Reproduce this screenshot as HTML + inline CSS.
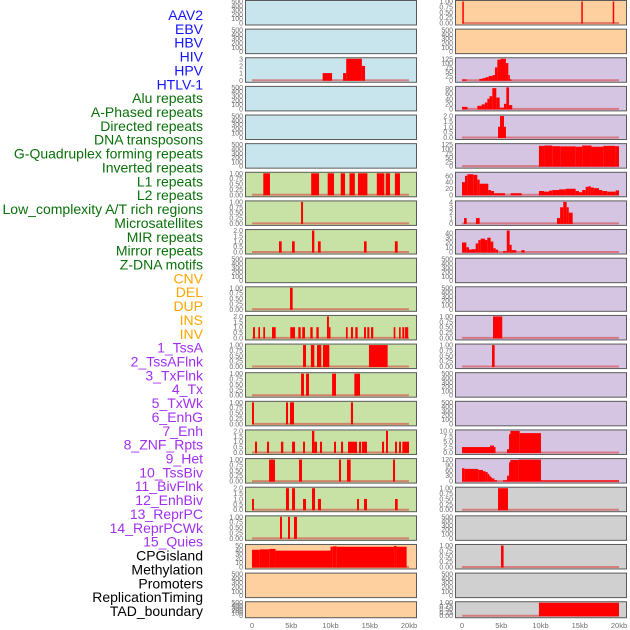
<!DOCTYPE html>
<html><head><meta charset="utf-8"><style>
body{margin:0;background:#fff;width:630px;height:630px;overflow:hidden}
svg{display:block;font-family:"Liberation Sans",sans-serif}
</style></head><body>
<svg id="chart" width="630" height="630" viewBox="0 0 630 630"></svg>
<script>
const labels=["AAV2","EBV","HBV","HIV","HPV","HTLV-1","Alu repeats","A-Phased repeats","Directed repeats","DNA transposons","G-Quadruplex forming repeats","Inverted repeats","L1 repeats","L2 repeats","Low_complexity A/T rich regions","Microsatellites","MIR repeats","Mirror repeats","Z-DNA motifs","CNV","DEL","DUP","INS","INV","1_TssA","2_TssAFlnk","3_TxFlnk","4_Tx","5_TxWk","6_EnhG","7_Enh","8_ZNF_Rpts","9_Het","10_TssBiv","11_BivFlnk","12_EnhBiv","13_ReprPC","14_ReprPCWk","15_Quies","CPGisland","Methylation","Promoters","ReplicationTiming","TAD_boundary"];
const groups=["virus","virus","virus","virus","virus","virus","repeat","repeat","repeat","repeat","repeat","repeat","repeat","repeat","repeat","repeat","repeat","repeat","repeat","sv","sv","sv","sv","sv","state","state","state","state","state","state","state","state","state","state","state","state","state","state","state","other","other","other","other","other"];
const xTicks=[0,5,10,15,20];
const xTickLabels=["0","5kb","10kb","15kb","20kb"];
const ticksEmpty=["0","100","200","300","400","500"];
const ticksBin=["0.00","0.25","0.50","0.75","1.00"];
const ticks2=["0.0","0.5","1.0","1.5","2.0"];
const ticks3=["0","1","2","3"];
const ticks4=["0","1","2","3","4"];
const ticks125=["0","25","50","75","100","125"];
const ticks80=["0","20","40","60","80"];
const ticks60=["0","20","40","60"];
const ticks40=["0","10","20","30","40"];
const ticks10=["0.0","2.5","5.0","7.5","10.0"];
const ticks120=["0","30","60","90","120"];
const ticks50=["0","10","20","30","40","50"];
// segments: [startKb, endKb, value]
const segL2=[[9.0,10.2,1],[11.6,12.0,1],[12.0,14.0,3],[14.0,14.4,2]];
const segL6=[[1.44,2.29,1],[7.54,8.54,1],[9.64,10.45,1],[11.3,11.85,1],[12.42,13.1,1],[13.5,14.7,1],[15.9,16.86,1],[17.03,17.58,1],[18.2,18.85,1]];
const segL7=[[6.25,6.5,1]];
const segL8=[[3.44,3.78,1],[5.1,5.44,1],[7.64,7.94,2],[8.4,8.75,1],[14.27,14.6,1],[18.2,18.56,1]];
const segL10=[[4.84,5.18,1]];
const segL11=[[0.13,0.38,1],[0.81,1.02,1],[1.44,1.66,1],[2.55,3.02,1],[4.88,5.48,1],[5.9,6.2,1],[6.4,6.75,1],[7.43,7.73,1],[8.2,8.5,1],[9.55,9.8,2],[9.8,10.0,1],[11.97,12.19,1],[12.6,12.87,1],[13.16,13.46,1],[14.27,14.52,1],[14.69,14.95,1],[15.16,15.45,1],[18.05,18.26,1],[18.73,18.94,1],[19.15,19.4,1],[19.5,19.9,1]];
const segL12=[[6.5,6.88,1],[7.5,7.94,1],[8.28,8.83,1],[9.04,9.85,1],[14.9,17.28,1]];
const segL13=[[6.25,6.62,1],[6.88,7.26,1],[10.2,10.7,1],[13.04,13.76,1]];
const segL14=[[0,0.25,1],[4.33,4.59,1],[4.84,5.35,1],[12.6,12.87,1]];
const segL15=[[0.38,0.64,1],[1.91,2.17,1],[3.69,3.99,1],[5.1,5.48,1],[6.5,6.75,1],[7.64,7.94,2],[7.94,8.28,1],[8.66,8.92,1],[10.45,10.7,1],[11.34,11.6,1],[12.23,13.38,1],[13.63,13.89,1],[14.0,14.65,1],[16.56,16.82,1],[17.07,17.32,2],[18.22,18.47,1],[18.73,18.98,1],[19.15,20,1]];
const segL16=[[2.17,2.93,1],[5.99,6.37,1],[11.08,11.34,1],[12.1,12.57,1],[17.96,18.22,1]];
const segL17=[[0,0.25,1],[4.33,4.71,2],[5.1,5.48,2],[6.5,6.88,1],[7.64,8.03,2],[8.4,8.79,1],[13.38,13.63,1],[14.27,14.65,1],[18.22,18.56,1]];
const segL18=[[3.57,3.82,1],[4.59,4.84,1],[5.35,5.73,1]];
const segL19=[[0,1,40],[1,2.2,41],[2.2,3,42],[3,10,38],[10,10.3,47],[10.3,10.8,48],[10.8,18.1,47],[18.1,18.4,49],[18.4,19.7,47]];
const segR0=[[0.04,0.2,1],[15.2,15.35,1],[19.2,19.35,1]];
const segR2=[[0,0.6,5],[2.2,2.6,8],[2.6,3.0,12],[3.0,3.4,18],[3.4,3.9,25],[3.9,4.2,30],[4.2,4.5,75],[4.5,4.9,120],[4.9,5.6,127],[5.6,5.9,100],[5.9,6.1,30],[6.1,6.3,5]];
const segR3=[[0,0.7,8],[1.95,2.5,12],[2.5,2.9,18],[2.9,3.23,25],[3.23,3.5,40],[3.5,3.86,50],[3.86,4.37,82],[4.37,4.8,45],[4.8,5.35,5],[5.35,5.65,20],[5.65,5.99,85],[5.99,6.4,15]];
const segR4=[[4.59,4.84,1],[4.84,5.35,2],[5.35,5.6,1]];
const segR5=[[9.8,10.5,118],[10.5,11.5,120],[11.5,12.5,116],[12.5,14.5,115],[14.5,15.3,113],[15.3,16.5,120],[16.5,18,113],[18,19.5,118],[19.5,20,116]];
const segR6=[[0,0.38,40],[0.38,0.68,60],[0.68,1.44,65],[1.44,1.95,63],[1.95,2.25,48],[2.25,3.35,35],[3.35,3.69,15],[3.69,4.08,12],[4.08,5.48,5],[6.2,7.6,5],[9.8,10.45,12],[10.45,11.08,10],[11.08,11.5,13],[11.5,12.36,15],[12.36,13.2,17],[13.2,14.48,19],[14.48,14.9,12],[14.9,15.3,8],[15.3,15.75,15],[15.75,16.1,25],[16.1,16.39,27],[16.39,16.8,23],[16.8,17.45,21],[17.45,17.87,15],[17.87,18.5,12],[18.5,19.58,10],[19.58,20,14]];
const segR7=[[0.26,0.6,1],[1.78,2.25,1],[12.1,12.5,1],[12.5,12.9,3],[12.9,13.33,4],[13.33,13.6,3],[13.6,14.1,2]];
const segR8=[[0,0.55,20],[0.55,0.9,10],[0.9,1.2,5],[1.2,1.74,6],[1.74,2.08,18],[2.08,2.38,25],[2.38,2.93,28],[2.93,3.22,25],[3.22,3.65,30],[3.65,3.99,22],[3.99,4.29,8],[4.29,4.6,5],[5.22,5.7,2],[5.7,6.07,45],[6.07,6.33,15],[6.33,6.92,4],[7.56,7.98,4]];
const segR11=[[3.95,5.13,1]];
const segR12=[[3.82,4.16,1]];
const segR15=[[0,3.57,2.5],[3.57,4.08,3.2],[4.08,4.2,2.5],[5.73,5.99,1.5],[5.99,6.16,8.5],[6.16,7.35,10],[7.35,10.06,9]];
const segR16=[[0,0.3,72],[0.3,2.08,68],[2.08,2.68,62],[2.68,3.01,55],[3.01,3.27,50],[3.27,3.45,40],[3.45,3.6,30],[3.6,3.8,22],[3.8,4.12,15],[4.12,4.46,5],[5.22,5.73,5],[5.73,5.99,30],[5.99,6.16,105],[6.16,7.18,118],[7.18,10.06,120],[10.06,20,4]];
const segR17=[[4.59,5.86,1]];
const segR19=[[4.97,5.3,1]];
const segR21=[[9.8,20,1]];

const bgColors={virus:"#c8e4ec",repeat:"#c8e1a4",sv:"#fed09f",state:"#d5c5e2",other:"#d0d0d0"};
const labelColors={virus:"#1414ff",repeat:"#0a700a",sv:"#ffa500",state:"#a030f0",other:"#000000"};
const panelDefs=[
[ticksEmpty,500,null],[ticksEmpty,500,null],[ticks3,3,segL2],[ticksEmpty,500,null],[ticksEmpty,500,null],[ticksEmpty,500,null],
[ticksBin,1,segL6],[ticksBin,1,segL7],[ticks2,2,segL8],[ticksEmpty,500,null],[ticksBin,1,segL10],[ticks2,2,segL11],[ticksBin,1,segL12],[ticksBin,1,segL13],[ticksBin,1,segL14],[ticks2,2,segL15],[ticksBin,1,segL16],[ticks2,2,segL17],[ticksBin,1,segL18],
[ticks50,50,segL19],[ticksEmpty,500,null],[ticksEmpty,500,null],
[ticksBin,1,segR0],[ticksEmpty,500,null],
[ticks125,125,segR2],[ticks80,85,segR3],[ticks2,2,segR4],[ticks125,125,segR5],[ticks60,68,segR6],[ticks4,4,segR7],[ticks40,45,segR8],[ticksEmpty,500,null],[ticksEmpty,500,null],[ticksBin,1,segR11],[ticksBin,1,segR12],[ticksEmpty,500,null],[ticksEmpty,500,null],[ticks10,10,segR15],[ticks120,120,segR16],
[ticksBin,1,segR17],[ticksEmpty,500,null],[ticksBin,1,segR19],[ticksEmpty,500,null],[ticksBin,1,segR21]
];
const NS="http://www.w3.org/2000/svg";
const svg=document.getElementById('chart');
function mk(tag,attrs,parent){const e=document.createElementNS(NS,tag);for(const k in attrs)e.setAttribute(k,attrs[k]);(parent||svg).appendChild(e);return e;}
const colX=[245,455],panelW=171;
function rowTop(r){return r*28.63;}
function rowH(r){return r===21?16:24.5;}
function xScale(col,kb){return colX[col]+7+kb/20*157;}
function yScale(r,v,ymax){const t=rowTop(r),h=rowH(r);return t+h-1.5-(v/ymax)*(h-3);}

labels.forEach((l,i)=>{
  const t=mk('text',{x:203,y:15+i*13.86+5,'text-anchor':'end','font-size':'14',fill:labelColors[groups[i]]});
  
  
  t.textContent=l;
});

panelDefs.forEach((p,i)=>{
  const col=i<22?0:1,row=i%22;
  const [ticks,ymax,segs]=p;
  const g=mk('g',{});
  
  
  const t=rowTop(row),h=rowH(row);
  mk('rect',{x:colX[col]+0.5,y:t+0.5,width:panelW,height:h,fill:bgColors[groups[i]],stroke:"#5a5a5a",'stroke-width':1},g);
  ticks.forEach(tk=>{
    const v=parseFloat(tk);
    const tt=mk('text',{x:colX[col]-2,y:yScale(row,v,ymax)+2.5,'text-anchor':'end','font-size':'7',fill:'#6e6e6e'},g);
    
    
    tt.textContent=tk;
  });
  if(segs){
    const b=mk('line',{x1:xScale(col,0),x2:xScale(col,20),y1:yScale(row,0,ymax),y2:yScale(row,0,ymax),stroke:'rgba(215,70,70,0.6)','stroke-width':2},g);
    
    
    segs.forEach(s=>{
      const x0=xScale(col,s[0]),x1=xScale(col,s[1]);
      const v=Math.min(s[2],ymax);
      const y0=Math.max(yScale(row,v,ymax),t+1);
      const yb=yScale(row,0,ymax)+0.5;
      const r=mk('rect',{x:x0,y:y0,width:Math.max(x1-x0,1.5),height:yb-y0,fill:'#ff0000'},g);
      
      
    });
  }
});
[0,1].forEach(col=>{
  xTicks.forEach((v,j)=>{
    const t=mk('text',{x:xScale(col,v),y:628,'text-anchor':'middle','font-size':'7.5',fill:'#6e6e6e'});
    
    
    t.textContent=xTickLabels[j];
  });
});
</script>
</body></html>
